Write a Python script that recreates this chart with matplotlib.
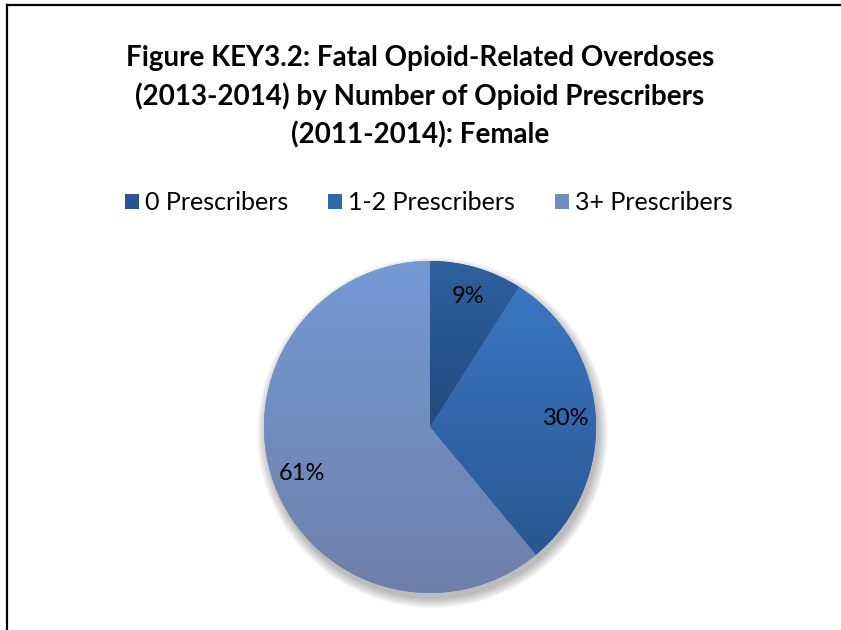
import numpy as np
import matplotlib.pyplot as plt
from matplotlib.colors import LinearSegmentedColormap
from matplotlib.patches import Circle, Patch
from matplotlib.lines import Line2D

# data
categories = ['0 Prescribers', '1-2 Prescribers', '3+ Prescribers']
shares = [9, 30, 61]
top_colors = ['#2F60A0', '#3A77C2', '#7499D4']
bottom_colors = ['#22497C', '#2A5691', '#6E80AA']
legend_colors = ['#29548E', '#3267AA', '#718DC0']
title = ('Figure KEY3.2: Fatal Opioid-Related Overdoses\n'
         '(2013-2014) by Number of Opioid Prescribers\n'
         '(2011-2014): Female')

plt.rcParams['font.family'] = ['Lato', 'DejaVu Sans']

W, H = 841, 630
fig = plt.figure(figsize=(W / 100, H / 100), dpi=100)

# pie centred at (430, 427) px, radius 166 px
cx, cy, r = 430, 427, 166
ax = fig.add_axes([(cx - r) / W, (H - cy - r) / H, 2 * r / W, 2 * r / H])

wedges, texts, autotexts = ax.pie(shares, startangle=90, counterclock=False,
                                  radius=1, colors=legend_colors,
                                  autopct='%d%%', pctdistance=0.82,
                                  wedgeprops=dict(edgecolor='none'),
                                  textprops=dict(fontsize=17, color='black'))

# soft shadow under the pie
for i in range(8):
    sh = Circle((0.015, -0.035), 1.0 + i * 0.008, facecolor='black',
                alpha=0.035, edgecolor='none', zorder=0, clip_on=False)
    ax.add_patch(sh)

# vertical gradient fill inside each wedge
grad = np.linspace(0, 1, 256).reshape(-1, 1)
for w, c_top, c_bot in zip(wedges, top_colors, bottom_colors):
    bb = w.get_path().get_extents()
    cmap = LinearSegmentedColormap.from_list('g', [c_top, c_bot])
    im = ax.imshow(grad, cmap=cmap, aspect='auto', origin='upper',
                   extent=[bb.x0, bb.x1, bb.y0, bb.y1], zorder=1)
    im.set_clip_path(w)
for t in autotexts:
    t.set_zorder(3)

ax.set_xlim(-1, 1)
ax.set_ylim(-1, 1)
ax.set_aspect('auto')
ax.axis('off')

fig.text(420 / W, 1 - 97 / H, title, ha='center', va='center',
         fontsize=20, fontweight='bold', linespacing=1.5)

handles = [Patch(facecolor=c, edgecolor='none') for c in legend_colors]
fig.legend(handles, categories, loc='center', bbox_to_anchor=(429 / W, 1 - 203 / H),
           ncol=3, frameon=False, fontsize=18, handlelength=0.55,
           handleheight=0.55, handletextpad=0.25, columnspacing=1.6)

# chart border (top and left edges visible)
fig.add_artist(Line2D([7 / W, 1.01], [1 - 5 / H, 1 - 5 / H], color='black', lw=1.6))
fig.add_artist(Line2D([7 / W, 7 / W], [-0.01, 1 - 5 / H], color='black', lw=1.6))

fig.savefig('out.png', dpi=100)
